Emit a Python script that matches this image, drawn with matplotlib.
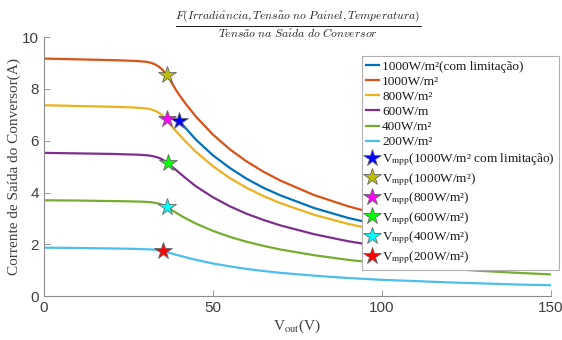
import matplotlib
matplotlib.use("Agg")
import matplotlib.pyplot as plt
from matplotlib.font_manager import FontProperties

plt.rcParams['mathtext.fontset'] = 'stix'

# ---- data ----
v_full = [0, 10, 20, 25, 28, 30, 31, 32, 33, 34, 35, 36, 37, 38, 39, 40, 42, 45,
          50, 55, 60, 65, 70, 80, 90, 100, 110, 120, 130, 140, 150]
i_1000 = [9.17, 9.14, 9.11, 9.09, 9.07, 9.05, 9.03, 8.99, 8.94, 8.86, 8.75, 8.60, 8.42,
          8.20, 7.98, 7.78, 7.42, 6.93, 6.24, 5.67, 5.20, 4.80, 4.46, 3.90, 3.47, 3.12,
          2.84, 2.60, 2.40, 2.23, 2.08]
i_800 = [7.37, 7.34, 7.31, 7.29, 7.27, 7.25, 7.23, 7.20, 7.15, 7.08, 6.98, 6.86, 6.70,
         6.53, 6.38, 6.24, 5.96, 5.57, 5.02, 4.56, 4.18, 3.86, 3.59, 3.14, 2.79, 2.51,
         2.28, 2.09, 1.93, 1.79, 1.67]
i_600 = [5.53, 5.51, 5.49, 5.47, 5.46, 5.44, 5.43, 5.41, 5.38, 5.34, 5.28, 5.20, 5.10,
         4.98, 4.88, 4.77, 4.55, 4.24, 3.82, 3.47, 3.18, 2.94, 2.73, 2.39, 2.12, 1.91,
         1.74, 1.59, 1.47, 1.36, 1.27]
i_400 = [3.70, 3.69, 3.67, 3.66, 3.65, 3.64, 3.63, 3.62, 3.60, 3.57, 3.53, 3.47, 3.40,
         3.31, 3.23, 3.15, 3.00, 2.80, 2.52, 2.29, 2.10, 1.94, 1.80, 1.58, 1.40, 1.26,
         1.15, 1.05, 0.97, 0.90, 0.84]
i_200 = [1.87, 1.86, 1.84, 1.83, 1.82, 1.81, 1.81, 1.80, 1.79, 1.77, 1.75, 1.72, 1.68,
         1.64, 1.60, 1.57, 1.50, 1.40, 1.26, 1.15, 1.05, 0.97, 0.90, 0.79, 0.70, 0.63,
         0.58, 0.53, 0.49, 0.45, 0.42]

v_lim = [39.8, 42, 45, 50, 55, 60, 65, 70, 80, 90, 100, 110, 120, 130, 140, 150]
i_lim = [6.80, 6.48, 6.04, 5.44, 4.95, 4.53, 4.18, 3.89, 3.40, 3.02, 2.72, 2.47, 2.27,
         2.09, 1.94, 1.81]

mpp_v = [40.0, 36.3, 36.3, 36.6, 36.3, 35.3]
mpp_i = [6.77, 8.53, 6.85, 5.15, 3.45, 1.74]

line_labels = ['1000W/m²(com limitação)', '1000W/m²', '800W/m²', '600W/m',
               '400W/m²', '200W/m²']
mpp_labels = [r'V$_{\rm mpp}$(1000W/m² com limitação)', r'V$_{\rm mpp}$(1000W/m²)',
              r'V$_{\rm mpp}$(800W/m²)', r'V$_{\rm mpp}$(600W/m²)',
              r'V$_{\rm mpp}$(400W/m²)', r'V$_{\rm mpp}$(200W/m²)']
x_ticks = [0, 50, 100, 150]
y_ticks = [0, 2, 4, 6, 8, 10]

line_colors = ['#0072BD', '#D95319', '#EDB120', '#7E2F8E', '#77AC30', '#4DBEEE']
star_colors = ['#0000FF', '#BFBF00', '#FF00FF', '#00FF00', '#00FFFF', '#FF0000']

fig = plt.figure(figsize=(5.62, 3.40), dpi=100)
ax = fig.add_axes([0.078, 0.129, 0.902, 0.762])

series = [(v_lim, i_lim), (v_full, i_1000), (v_full, i_800), (v_full, i_600),
          (v_full, i_400), (v_full, i_200)]
handles = []
for (xs, ys), c, lab in zip(series, line_colors, line_labels):
    h, = ax.plot(xs, ys, color=c, lw=1.6, label=lab, zorder=2)
    handles.append(h)
for xv, yv, c, lab in zip(mpp_v, mpp_i, star_colors, mpp_labels):
    h, = ax.plot([xv], [yv], linestyle='none', marker='*', markersize=13,
                 markerfacecolor=c, markeredgecolor='#666666', markeredgewidth=0.6,
                 label=lab, zorder=3)
    handles.append(h)

ax.set_xlim(0, 150)
ax.set_ylim(0, 10)
ax.set_xticks(x_ticks)
ax.set_yticks(y_ticks)
for s in ['top', 'right']:
    ax.spines[s].set_visible(False)
for s in ['left', 'bottom']:
    ax.spines[s].set_color('#8c8c8c')
    ax.spines[s].set_linewidth(0.8)
ax.tick_params(direction='in', length=4, width=0.6, color='#8c8c8c',
               labelsize=11, labelcolor='#404040')
for lbl in ax.get_xticklabels() + ax.get_yticklabels():
    lbl.set_family('Liberation Sans')

ax.set_ylabel('Corrente de Saída do Conversor(A)', family='Liberation Serif',
              fontsize=11, color='#404040', labelpad=1)
ax.set_xlabel(r'V$_{\rm out}$(V)', family='Liberation Serif', fontsize=11,
              color='#404040', labelpad=2)

fig.text(0.53, 0.93,
         r'$\frac{F(Irradi\hat{a}ncia,Tens\tilde{a}o\ no\ Painel,Temperatura)}'
         r'{Tens\tilde{a}o\ na\ Sa\acute{\imath}da\ do\ Conversor}$',
         ha='center', va='center', fontsize=12, math_fontfamily='cm', color='#222222')

leg_font = FontProperties(family='Liberation Serif', size=9.5, math_fontfamily='stix')
leg = ax.legend(handles=handles, loc='upper left', bbox_to_anchor=(0.627, 0.925),
                borderaxespad=0, prop=leg_font, handlelength=1.0, handletextpad=0.25,
                labelspacing=0.22, borderpad=0.3, frameon=True, fancybox=False,
                framealpha=1.0, markerscale=1.0)
leg.get_frame().set_edgecolor('#b0b0b0')
leg.get_frame().set_linewidth(0.8)
for t in leg.get_texts():
    t.set_color('#1a1a1a')

fig.savefig('out.png', dpi=100)
